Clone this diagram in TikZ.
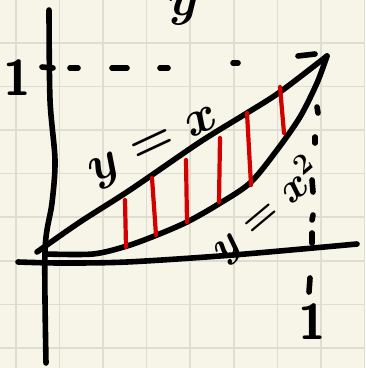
\documentclass[tikz,border=0pt]{standalone}
\definecolor{paper}{HTML}{F7F5E8}
\definecolor{gridgray}{HTML}{DEDDD1}
\definecolor{hatchred}{HTML}{D40000}
\begin{document}
\begin{tikzpicture}[x=0.5pt,y=-0.5pt,
    ink/.style={line width=2.8pt,line cap=round,line join=round},
    hatch/.style={line width=2.1pt,line cap=round,hatchred},
    gridline/.style={line width=0.75pt,gridgray},
    hand/.style={font=\fontsize{25}{25}\selectfont\boldmath}]
    \fill[paper] (0,0) rectangle (365,368);
    \useasboundingbox (0,0) rectangle (365,368);
    \foreach \i in {0,...,8} \draw[gridline] (15.8+43.6*\i,0) -- (15.8+43.6*\i,368);
    \foreach \j in {0,...,7} \draw[gridline] (0,42.8+43.6*\j) -- (365,42.8+43.6*\j);

    \draw[ink] plot[smooth] coordinates {(49,10) (50,100) (55,160) (52,203) (45,250) (46,363)};
    \draw[ink] plot[smooth] coordinates {(18,262) (60,263) (127,262) (233,255) (357,244)};
    \node[anchor=base,font=\fontsize{70}{70}\selectfont\boldmath] (ylabel) at (184,16) {$y$};

    \draw[ink] plot[smooth] coordinates {(37,252) (80,222) (130,190) (200,142) (247,113) (280,92) (327,56)};
    \draw[ink] (298,56) -- (315,54);
    \draw[ink] plot[smooth] coordinates {(45,254) (93,254) (127,246) (157,235) (187,222) (217,205) (250,183) (277,150) (300,117) (317,83) (327,56)};

    \foreach \a/\b/\c/\d in {125/200/126/247, 152/178/156/235, 186/160/187/222, 220/138/219/202, 247/113/251/185, 280/87/284/133}
        \draw[hatch] (\a,\b) -- (\c,\d);

    \draw[ink] (42,67) -- (53,68);
    \foreach \a/\b/\c/\d in {70/68/78/68, 112/68/127/68, 160/68/168/68, 233/63/238/63}
        \draw[ink] (\a,\b) -- (\c,\d);
    \foreach \a/\b/\c/\d in {317/107/318/113, 315/137/315/143, 312/180/313/192, 313/215/312/220, 312/233/312/243, 310/278/309/292}
        \draw[ink] (\a,\b) -- (\c,\d);

    \node[hand] (oney) at (17,78) {\sffamily\bfseries 1};
    \node[hand] (onex) at (312,322) {\sffamily\bfseries 1};
    \node[hand,rotate=25] (lineyx) at (155,148) {$y=x$};
    \node[hand,rotate=40,font=\fontsize{22}{22}\selectfont\boldmath] (curveyx) at (266,210) {$y=x^2$};
\end{tikzpicture}
\end{document}
